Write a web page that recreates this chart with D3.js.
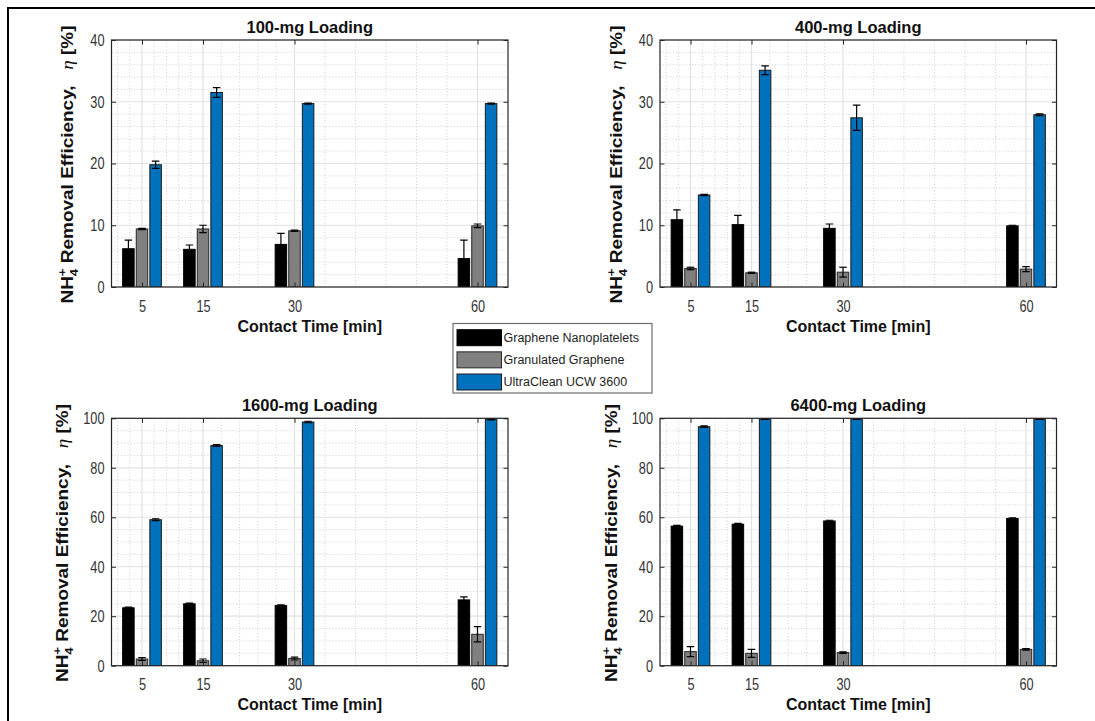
<!DOCTYPE html>
<html><head><meta charset="utf-8">
<script src="https://cdn.jsdelivr.net/npm/d3@7"></script>
<style>
body{margin:0;background:#fff;}
svg{display:block;font-family:"Liberation Sans",Arial,Helvetica,sans-serif;}
</style></head><body>
<svg id="chart" width="1095" height="721"></svg>
<script>
// ---------------- DATA ----------------
const times = [5, 15, 30, 60];
const seriesNames = ["Graphene Nanoplatelets", "Granulated Graphene", "UltraClean UCW 3600"];
const panelTitles = ["100-mg Loading", "400-mg Loading", "1600-mg Loading", "6400-mg Loading"];

// 100-mg loading
const gnp100 = [6.2, 6.1, 6.9, 4.6],   gnp100Err = [1.4, 0.7, 1.8, 3.0];
const gg100  = [9.4, 9.4, 9.1, 9.9],   gg100Err  = [0.1, 0.6, 0.1, 0.3];
const ucw100 = [19.8, 31.5, 29.7, 29.7], ucw100Err = [0.6, 0.8, 0.1, 0.1];
// 400-mg loading
const gnp400 = [10.9, 10.1, 9.5, 9.9], gnp400Err = [1.6, 1.5, 0.7, 0.1];
const gg400  = [3.0, 2.3, 2.4, 2.9],   gg400Err  = [0.2, 0.1, 0.8, 0.4];
const ucw400 = [14.9, 35.1, 27.4, 27.9], ucw400Err = [0.1, 0.7, 2.05, 0.15];
// 1600-mg loading
const gnp1600 = [23.4, 25.0, 24.3, 26.6], gnp1600Err = [0.3, 0.3, 0.3, 1.2];
const gg1600  = [2.7, 2.0, 2.9, 12.7],    gg1600Err  = [0.6, 0.7, 0.6, 3.1];
const ucw1600 = [59.0, 89.0, 98.5, 99.6], ucw1600Err = [0.4, 0.4, 0.3, 0.2];
// 6400-mg loading
const gnp6400 = [56.4, 57.2, 58.5, 59.5], gnp6400Err = [0.3, 0.3, 0.3, 0.3];
const gg6400  = [5.7, 5.0, 5.3, 6.6],     gg6400Err  = [2.0, 1.6, 0.3, 0.3];
const ucw6400 = [96.6, 99.7, 99.7, 99.7], ucw6400Err = [0.3, 0.1, 0.1, 0.1];

// axes ticks
const xDomain = [0, 65];
const xMinorTicks = [1, 3, 7, 9, 11, 13, 18, 21, 24, 27, 35, 40, 45, 50, 55];
const yTicksTop = [0, 10, 20, 30, 40];
const yMinorTop = [2, 4, 6, 8, 12, 14, 16, 18, 22, 24, 26, 28, 32, 34, 36, 38];
const yTicksBottom = [0, 20, 40, 60, 80, 100];
const yMinorBottom = [5, 10, 15, 25, 30, 35, 45, 50, 55, 65, 70, 75, 85, 90, 95];

// ---------------- BUILD ----------------
const panelData = [
  {means: [gnp100, gg100, ucw100], errs: [gnp100Err, gg100Err, ucw100Err], yTicks: yTicksTop, yMinor: yMinorTop},
  {means: [gnp400, gg400, ucw400], errs: [gnp400Err, gg400Err, ucw400Err], yTicks: yTicksTop, yMinor: yMinorTop},
  {means: [gnp1600, gg1600, ucw1600], errs: [gnp1600Err, gg1600Err, ucw1600Err], yTicks: yTicksBottom, yMinor: yMinorBottom},
  {means: [gnp6400, gg6400, ucw6400], errs: [gnp6400Err, gg6400Err, ucw6400Err], yTicks: yTicksBottom, yMinor: yMinorBottom}
];
const layout = [
  {x0: 111.5, x1: 508, y0: 40, y1: 287, ylabX: 73.3},
  {x0: 660, x1: 1056.5, y0: 40, y1: 287, ylabX: 621.8},
  {x0: 111.5, x1: 508, y0: 418.3, y1: 665.7, ylabX: 68.4},
  {x0: 660, x1: 1056.5, y0: 418.3, y1: 665.7, ylabX: 616.9}
];
const colors = ["#000000", "#808080", "#0072BD"];
const edgeColors = ["#000000", "#262626", "#1a1a1a"];
const offsets = [-13.6, 0, 13.6];
const barW = 11.5;
const capW = 7.5;
const tickScaleX = 0.75;

const svg = d3.select("#chart");
svg.append("rect").attr("width", 1095).attr("height", 721).attr("fill", "#fff");

panelData.forEach((P, i) => {
  const L = layout[i];
  const g = svg.append("g");
  const x = d3.scaleLinear().domain(xDomain).range([L.x0, L.x1]);
  const y = d3.scaleLinear().domain([0, d3.max(P.yTicks)]).range([L.y1, L.y0]);

  // minor grid
  g.append("g").selectAll("line").data(xMinorTicks).join("line")
    .attr("x1", d => x(d)).attr("x2", d => x(d)).attr("y1", L.y0).attr("y2", L.y1)
    .attr("stroke", "#cfcfcf").attr("stroke-width", 1).attr("stroke-dasharray", "1,2.2");
  g.append("g").selectAll("line").data(P.yMinor).join("line")
    .attr("y1", d => y(d)).attr("y2", d => y(d)).attr("x1", L.x0).attr("x2", L.x1)
    .attr("stroke", "#cfcfcf").attr("stroke-width", 1).attr("stroke-dasharray", "1,2.2");
  // major grid
  g.append("g").selectAll("line").data(times).join("line")
    .attr("x1", d => x(d)).attr("x2", d => x(d)).attr("y1", L.y0).attr("y2", L.y1)
    .attr("stroke", "#e2e2e2").attr("stroke-width", 1.2);
  g.append("g").selectAll("line").data(P.yTicks).join("line")
    .attr("y1", d => y(d)).attr("y2", d => y(d)).attr("x1", L.x0).attr("x2", L.x1)
    .attr("stroke", "#e2e2e2").attr("stroke-width", 1.2);

  // clip
  const cid = "clip" + i;
  svg.append("clipPath").attr("id", cid).append("rect")
    .attr("x", L.x0).attr("y", L.y0 - 0.5).attr("width", L.x1 - L.x0).attr("height", L.y1 - L.y0 + 0.5);
  const plot = g.append("g").attr("clip-path", `url(#${cid})`);

  // bars
  P.means.forEach((vals, s) => {
    plot.append("g").selectAll("rect").data(vals).join("rect")
      .attr("x", (d, j) => x(times[j]) + offsets[s] - barW / 2)
      .attr("y", d => y(d))
      .attr("width", barW)
      .attr("height", d => y(0) - y(d))
      .attr("fill", colors[s])
      .attr("stroke", edgeColors[s]).attr("stroke-width", 1);
  });
  // error bars
  P.means.forEach((vals, s) => {
    const eg = plot.append("g").attr("stroke", "#000").attr("stroke-width", 1.2);
    vals.forEach((v, j) => {
      const e = P.errs[s][j];
      const cx = x(times[j]) + offsets[s];
      eg.append("line").attr("x1", cx).attr("x2", cx).attr("y1", y(v - e)).attr("y2", y(v + e));
      eg.append("line").attr("x1", cx - capW / 2).attr("x2", cx + capW / 2).attr("y1", y(v - e)).attr("y2", y(v - e));
      eg.append("line").attr("x1", cx - capW / 2).attr("x2", cx + capW / 2).attr("y1", y(v + e)).attr("y2", y(v + e));
    });
  });

  // inward ticks via d3 axes
  const tickLen = 4.5;
  const axL = g.append("g").attr("transform", `translate(${L.x0},0)`).call(d3.axisLeft(y).tickValues(P.yTicks).tickSize(-tickLen).tickFormat(""));
  const axR = g.append("g").attr("transform", `translate(${L.x1},0)`).call(d3.axisRight(y).tickValues(P.yTicks).tickSize(-tickLen).tickFormat(""));
  const axB = g.append("g").attr("transform", `translate(0,${L.y1})`).call(d3.axisBottom(x).tickValues(times).tickSize(-tickLen).tickFormat(""));
  const axT = g.append("g").attr("transform", `translate(0,${L.y0})`).call(d3.axisTop(x).tickValues(times).tickSize(-tickLen).tickFormat(""));
  [axL, axR, axB, axT].forEach(a => { a.select(".domain").remove(); a.selectAll("line").attr("stroke", "#262626"); });

  // labelled axes
  const lblY = g.append("g").attr("transform", `translate(${L.x0},0)`)
    .call(d3.axisLeft(y).tickValues(P.yTicks).tickSize(0).tickPadding(7));
  lblY.select(".domain").remove();
  lblY.selectAll("text").attr("font-size", 17).attr("font-family", "'Liberation Sans',Arial,sans-serif")
    .attr("fill", "#333").attr("x", -7 / tickScaleX).attr("transform", `scale(${tickScaleX},1)`);
  const lblX = g.append("g").attr("transform", `translate(0,${L.y1})`)
    .call(d3.axisBottom(x).tickValues(times).tickSize(0).tickPadding(12.5));
  lblX.select(".domain").remove();
  lblX.selectAll("text").attr("font-size", 17).attr("font-family", "'Liberation Sans',Arial,sans-serif")
    .attr("fill", "#333").attr("transform", `scale(${tickScaleX},1)`)
    .attr("x", function() { return 0; });
  // correct x positions after scaling (text x is relative to tick group, so 0 stays 0)

  // box
  g.append("rect").attr("x", L.x0).attr("y", L.y0).attr("width", L.x1 - L.x0).attr("height", L.y1 - L.y0)
    .attr("fill", "none").attr("stroke", "#262626").attr("stroke-width", 1.2);

  // title
  g.append("text").attr("x", (L.x0 + L.x1) / 2).attr("y", L.y0 - 7)
    .attr("text-anchor", "middle").attr("font-weight", "bold").attr("font-size", 16.5)
    .attr("fill", "#111").text(panelTitles[i]);
  // x label
  g.append("text").attr("x", (L.x0 + L.x1) / 2).attr("y", L.y1 + 44.5)
    .attr("text-anchor", "middle").attr("font-weight", "bold").attr("font-size", 16)
    .attr("fill", "#111").text("Contact Time [min]");
  // y label
  const cy = (L.y0 + L.y1) / 2 + 1;
  const yl = g.append("g").attr("transform", `translate(${L.ylabX},${cy}) rotate(-90) scale(1.15,1)`)
    .append("text").attr("text-anchor", "middle").attr("font-weight", "bold").attr("font-size", 16.5)
    .attr("fill", "#111").style("white-space", "pre");
  yl.append("tspan").text("NH");
  yl.append("tspan").attr("font-size", 11.5).attr("dy", 5).text("4");
  yl.append("tspan").attr("font-size", 11.5).attr("dx", -6.4).attr("dy", -12).text("+");
  yl.append("tspan").attr("dy", 7).text(" Removal Efficiency,   ");
  yl.append("tspan").attr("font-style", "italic").attr("font-weight", "normal").attr("font-family", "'Liberation Serif',serif").text("η");
  yl.append("tspan").text(" [%]");
});

// legend
const lg = svg.append("g");
lg.append("rect").attr("x", 453).attr("y", 323.5).attr("width", 199).attr("height", 69.5)
  .attr("fill", "#fff").attr("stroke", "#6e6e6e").attr("stroke-width", 1.2);
const legRowY = d3.scalePoint().domain(seriesNames).range([337.7, 382]);
seriesNames.forEach((name, s) => {
  const cy = legRowY(name);
  lg.append("rect").attr("x", 457).attr("y", cy - 8).attr("width", 44.5).attr("height", 16)
    .attr("fill", colors[s]).attr("stroke", edgeColors[s]).attr("stroke-width", 1);
  lg.append("text").attr("x", 503.5).attr("y", cy + 4.3).attr("font-size", 12.5)
    .attr("fill", "#1e1e1e").text(name);
});

// outer frame
svg.append("rect").attr("x", 8).attr("y", 8).attr("width", 1100).attr("height", 730)
  .attr("fill", "none").attr("stroke", "#000").attr("stroke-width", 2);
</script>
</body></html>
